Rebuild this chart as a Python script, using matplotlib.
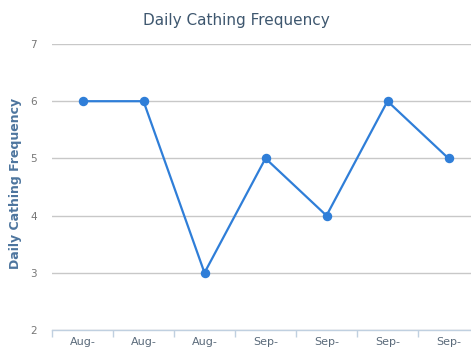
import matplotlib
matplotlib.use("Agg")
import matplotlib.pyplot as plt
import numpy as np

categories = ["Aug-", "Aug-", "Aug-", "Sep-", "Sep-", "Sep-", "Sep-"]
frequency = [6, 6, 3, 5, 4, 6, 5]
y_ticks = [2, 3, 4, 5, 6, 7]

W, H = 471, 349
fig = plt.figure(figsize=(W / 100, H / 100), dpi=100)
fig.patch.set_facecolor("white")

# plot area in pixel units (extends slightly past the right edge)
left, right, top, bottom = 52, 479, 44, 330
ax = fig.add_axes([left / W, 1 - bottom / H, (right - left) / W, (bottom - top) / H])
ax.set_facecolor("white")

x = np.arange(len(categories))
ax.plot(x, frequency, color="#2f7ed8", lw=1.6, marker="o", ms=5.8,
        markeredgecolor="#2f7ed8", markerfacecolor="#2f7ed8", zorder=3, clip_on=False)

ax.set_xlim(-0.5, len(categories) - 0.5)
ax.set_ylim(2, 7)

ax.set_yticks(y_ticks)
ax.yaxis.grid(True, color="#c8c8c8", lw=1)
ax.set_axisbelow(True)
ax.tick_params(axis="y", length=0, pad=11, labelsize=7.5, labelcolor="#777777")

# category labels centred, tick marks on category boundaries
ax.set_xticks(x)
ax.set_xticklabels(categories)
ax.tick_params(axis="x", which="major", length=0, pad=5, labelsize=8, labelcolor="#5a6a7a")
ax.set_xticks(np.arange(len(categories) + 1) - 0.5, minor=True)
ax.tick_params(axis="x", which="minor", length=5, width=1, color="#c0d0e0")

for s in ("top", "right", "left"):
    ax.spines[s].set_visible(False)
ax.spines["bottom"].set_color("#c0d0e0")
ax.spines["bottom"].set_linewidth(1)

fig.text(236 / W, 1 - 20 / H, "Daily Cathing Frequency", ha="center", va="center",
         fontsize=11, color="#3e576f")
fig.text(16 / W, 1 - 183 / H, "Daily Cathing Frequency", ha="center", va="center",
         rotation=90, fontsize=9, fontweight="bold", color="#4d759e")

fig.savefig("out.png", dpi=100, facecolor="white")
